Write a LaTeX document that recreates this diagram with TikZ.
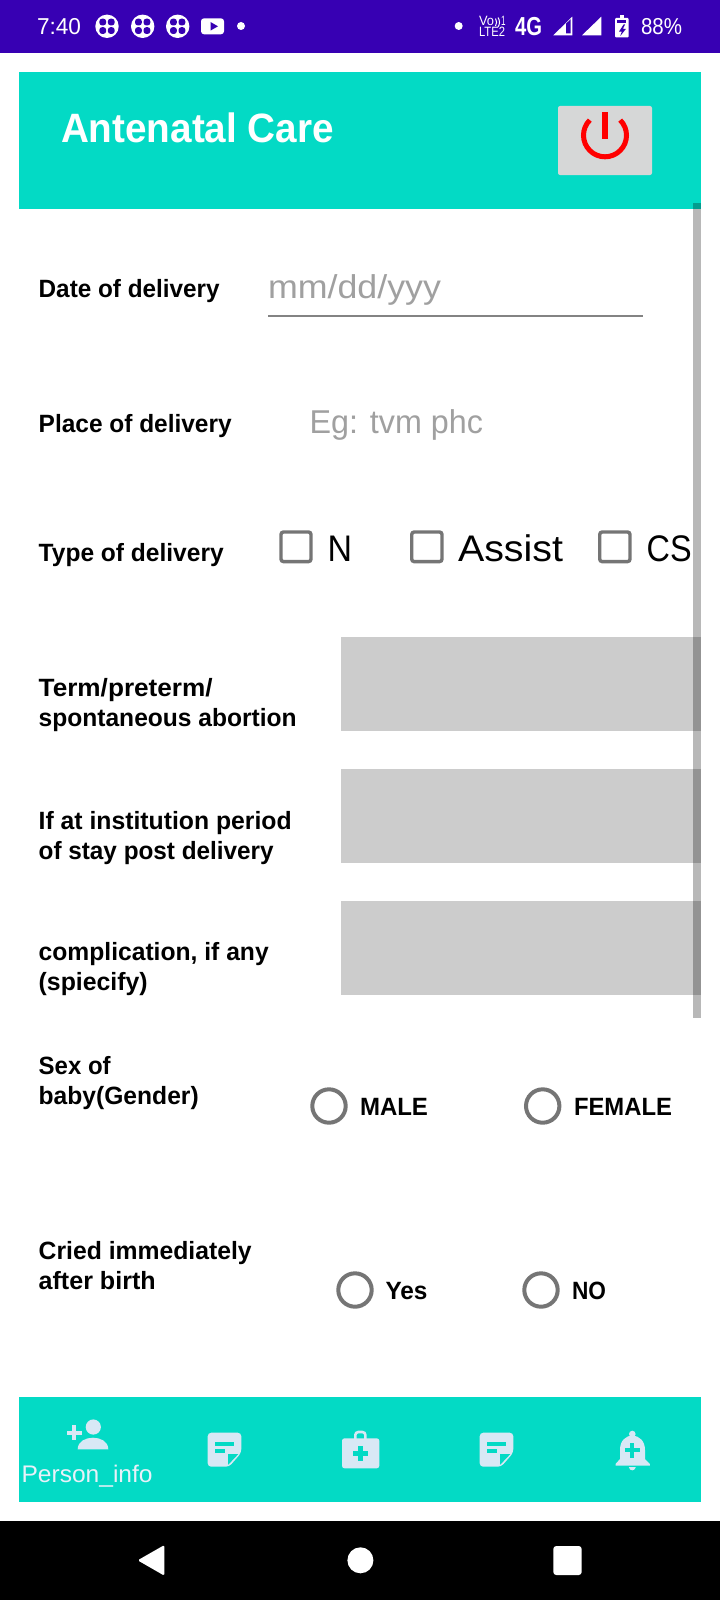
\documentclass[tikz,border=0pt]{standalone}
\usepackage{fontspec}
\usepackage{graphicx}
\setmainfont{Liberation Sans}
\definecolor{barpurple}{HTML}{3700B3}
\definecolor{teal}{HTML}{03DAC5}
\definecolor{iconblue}{HTML}{D8E8F5}
\definecolor{ctlgray}{HTML}{757575}
\definecolor{hintgray}{HTML}{A0A0A0}
\definecolor{fieldgray}{HTML}{CCCCCC}
\definecolor{btngray}{HTML}{D6D7D7}
\newcommand\fw[2]{\resizebox{#1pt}{\height}{#2}}
\newcommand\cloverico[1]{%
  \fill[white] (#1,26.3) circle[radius=11.7pt];
  \foreach \sx in {-1,1} \foreach \sy in {-1,1}
    \fill[barpurple,rounded corners=2.6pt] (#1+\sx*0.9,26.3+\sy*0.9) rectangle (#1+\sx*7.6,26.3+\sy*7.6);
}
\newcommand\noteicon[2]{%
  \begin{scope}[shift={(#1,#2)}]
    \fill[iconblue,rounded corners=3.5pt] (0,0) -- (33.6,0) -- (33.6,20) -- (21.5,34) -- (0,34) -- cycle;
    \fill[teal] (7.6,9.6) rectangle (26.3,13);
    \fill[teal] (7.6,16.6) rectangle (17,20.3);
    \fill[teal] (20.5,21.5) -- (30.5,21.5) -- (20.5,32) -- cycle;
  \end{scope}
}
\tikzset{
  txt/.style={anchor=base west,inner sep=0pt,outer sep=0pt},
  lbl/.style={txt,align=left,text=black,font=\fontsize{25}{30}\selectfont\bfseries},
  opt/.style={txt,text=black,font=\fontsize{37}{40}\selectfont},
  hint/.style={txt,text=hintgray,font=\fontsize{33}{36}\selectfont},
  radlbl/.style={txt,text=black,font=\fontsize{25}{30}\selectfont\bfseries},
  stat/.style={txt,text=white,font=\fontsize{23}{26}\selectfont},
  tiny/.style={txt,text=white,font=\fontsize{13.5}{14}\selectfont},
  chk/.style={draw=ctlgray,line width=3.4pt,rounded corners=2.5pt},
  radio/.style={draw=ctlgray,line width=4pt},
  field/.style={fill=fieldgray},
  scrollbar/.style={fill=black,fill opacity=0.28},
}
\begin{document}
\begin{tikzpicture}[x=1pt,y=-1pt]
\useasboundingbox (0,0) rectangle (720,1600);
\fill[white] (0,0) rectangle (720,1600);
% status bar
\fill[barpurple] (0,0) rectangle (720,53);
\node[stat] (time) at (37,35) {\fw{44}{7:40}};
\cloverico{107}
\cloverico{142.7}
\cloverico{177.7}
\fill[white,rounded corners=3pt] (201,18.3) rectangle (224,34.3);
\fill[barpurple] (210.5,22) -- (218,26.3) -- (210.5,30.6) -- cycle;
\fill[white] (241,26) circle[radius=4pt];
\fill[white] (458.7,26) circle[radius=4pt];
\node[tiny] (vo) at (479,26) {\fw{15}{Vo}};
\draw[white,line width=1pt] (495.5,18.5) .. controls (497,21) and (497,23.5) .. (495.5,26);
\draw[white,line width=1pt] (498,17.5) .. controls (500,20.5) and (500,24) .. (498,27);
\node[tiny] (volone) at (501,26) {\fw{4.5}{1}};
\node[tiny] (lte) at (479,37) {\fw{26}{LTE2}};
\node[stat,font=\fontsize{26}{28}\selectfont\bfseries] (fourg) at (515,36) {\fw{27}{4G}};
\fill[white] (553.3,35.3) -- (572.3,16.7) -- (572.3,35.3) -- cycle;
\fill[barpurple] (566.2,23.5) -- (570.6,19.2) -- (570.6,33.5) -- (566.2,33.5) -- cycle;
\fill[white] (582,35.3) -- (601.3,16.7) -- (601.3,35.3) -- cycle;
\fill[white] (619.8,15.5) rectangle (624,19);
\fill[white,rounded corners=1pt] (615,18) rectangle (628.7,37.3);
\fill[barpurple] (617.3,20.5) rectangle (626.4,23);
\fill[barpurple] (623.6,24.5) -- (619,31.6) -- (621.8,31.6) -- (620.3,36) -- (626,28.8) -- (623,28.8) -- (625,24.5) -- cycle;
\node[stat] (batt) at (641,34.7) {\fw{41}{88\%}};
% header
\fill[teal] (19,72) rectangle (701,209);
\node[txt,text=white,font=\fontsize{41}{44}\selectfont\bfseries] (title) at (61,142.7) {\fw{273}{Antenatal Care}};
\fill[btngray,rounded corners=2pt] (558,106) rectangle (652,175);
\draw[red,line width=5pt] (620.2,120.1) arc[start angle=45,end angle=-225,radius=21.5pt];
\fill[red] (602.3,111.7) rectangle (607.7,139);
% date
\node[lbl] (date) at (38.7,297) {\fw{181}{Date of delivery}};
\node[hint] (datehint) at (268,298.5) {\fw{173}{mm/dd/yyy}};
\draw[color=ctlgray!90,line width=2pt] (268,316) -- (643,316);
% place
\node[lbl] (place) at (38.7,432.7) {\fw{193}{Place of delivery}};
\node[hint] (placehint) at (309.5,433) {\fw{173.5}{Eg: tvm phc}};
% type
\node[lbl] (type) at (38.7,561.7) {\fw{185}{Type of delivery}};
\draw[chk] (281,532) rectangle (311,561.6);
\node[opt] (optn) at (327.5,561.7) {\fw{24.5}{N}};
\draw[chk] (411.7,532) rectangle (442,561.6);
\node[opt] (optassist) at (458,561.7) {\fw{105}{Assist}};
\draw[chk] (599.7,532) rectangle (630,561.6);
\node[opt] (optcs) at (646.7,561.7) {\fw{45}{CS}};
% text fields
\fill[field] (341,637) rectangle (701,731);
\fill[field] (341,769) rectangle (701,863);
\fill[field] (341,901) rectangle (701,995);
\node[lbl] (term) at (38.7,726.7) {\fw{174}{Term/preterm/}\\\fw{258}{spontaneous abortion}};
\node[lbl] (stay) at (38.7,859) {\fw{253}{If at institution period}\\\fw{235}{of stay post delivery}};
\node[lbl] (compl) at (38.7,990.7) {\fw{230}{complication, if any}\\\fw{109}{(spiecify)}};
\fill[scrollbar] (693,203) rectangle (701,1017.7);
% sex
\node[lbl] (sex) at (38.7,1104) {\fw{72}{Sex of}\\\fw{160}{baby(Gender)}};
\draw[radio] (329,1106) circle[radius=16.7pt];
\node[radlbl] (male) at (360,1115.7) {\fw{68}{MALE}};
\draw[radio] (542.7,1106) circle[radius=16.7pt];
\node[radlbl] (female) at (574,1115.7) {\fw{98}{FEMALE}};
% cried
\node[lbl] (cried) at (38.7,1289) {\fw{213}{Cried immediately}\\\fw{117}{after birth}};
\draw[radio] (355,1290) circle[radius=16.7pt];
\node[radlbl] (yes) at (385.5,1299) {\fw{42}{Yes}};
\draw[radio] (541,1290) circle[radius=16.7pt];
\node[radlbl] (no) at (572,1299) {\fw{34}{NO}};
% bottom bar
\fill[teal] (19,1397) rectangle (701,1501.7);
\fill[iconblue] (93.3,1427) circle[radius=7.6pt];
\fill[iconblue] (77.7,1449.3) .. controls (77.7,1441) and (86,1437.7) .. (93,1437.7) .. controls (100,1437.7) and (108.3,1441) .. (108.3,1449.3) -- cycle;
\fill[iconblue] (67,1430.7) rectangle (81.6,1434.7);
\fill[iconblue] (72.3,1425.4) rectangle (76.3,1440);
\node[txt,text=iconblue!60!white,font=\fontsize{24}{26}\selectfont] (person) at (21.6,1482.7) {\fw{131}{Person\_info}};
\noteicon{207.7}{1432.7}
\fill[iconblue,rounded corners=2.5pt] (342,1438.3) rectangle (379.3,1468.3);
\draw[iconblue,line width=2.6pt,rounded corners=3pt] (355.3,1439) -- (355.3,1432) -- (365.4,1432) -- (365.4,1439);
\fill[teal] (353,1451) rectangle (368.4,1455.5);
\fill[teal] (358.4,1445.6) rectangle (362.9,1461);
\noteicon{479.7}{1432.7}
\fill[iconblue] (632.3,1434) circle[radius=3.3pt];
\fill[iconblue] (615.5,1465.5) -- (615.5,1464) -- (620,1459) -- (620,1450) .. controls (620,1441) and (625,1436) .. (632.3,1435.5) .. controls (639.6,1436) and (645,1441) .. (645,1450) -- (645,1459) -- (649.8,1464) -- (649.8,1465.5) -- cycle;
\fill[iconblue] (628.8,1467) -- (635.8,1467) .. controls (635.5,1469.5) and (633.5,1470.3) .. (632.3,1470.3) .. controls (631,1470.3) and (629,1469.5) .. (628.8,1467) -- cycle;
\fill[teal] (624.8,1448) rectangle (639.8,1452);
\fill[teal] (630.3,1442.5) rectangle (634.3,1457.5);
% nav bar
\fill[black] (0,1520.7) rectangle (720,1600);
\fill[white,rounded corners=1.5pt] (137.7,1560.3) -- (164.4,1545) -- (164.4,1575.7) -- cycle;
\fill[white] (360.4,1560.3) circle[radius=13pt];
\fill[white,rounded corners=3pt] (553.3,1546) rectangle (581.7,1575);
\end{tikzpicture}
\end{document}
